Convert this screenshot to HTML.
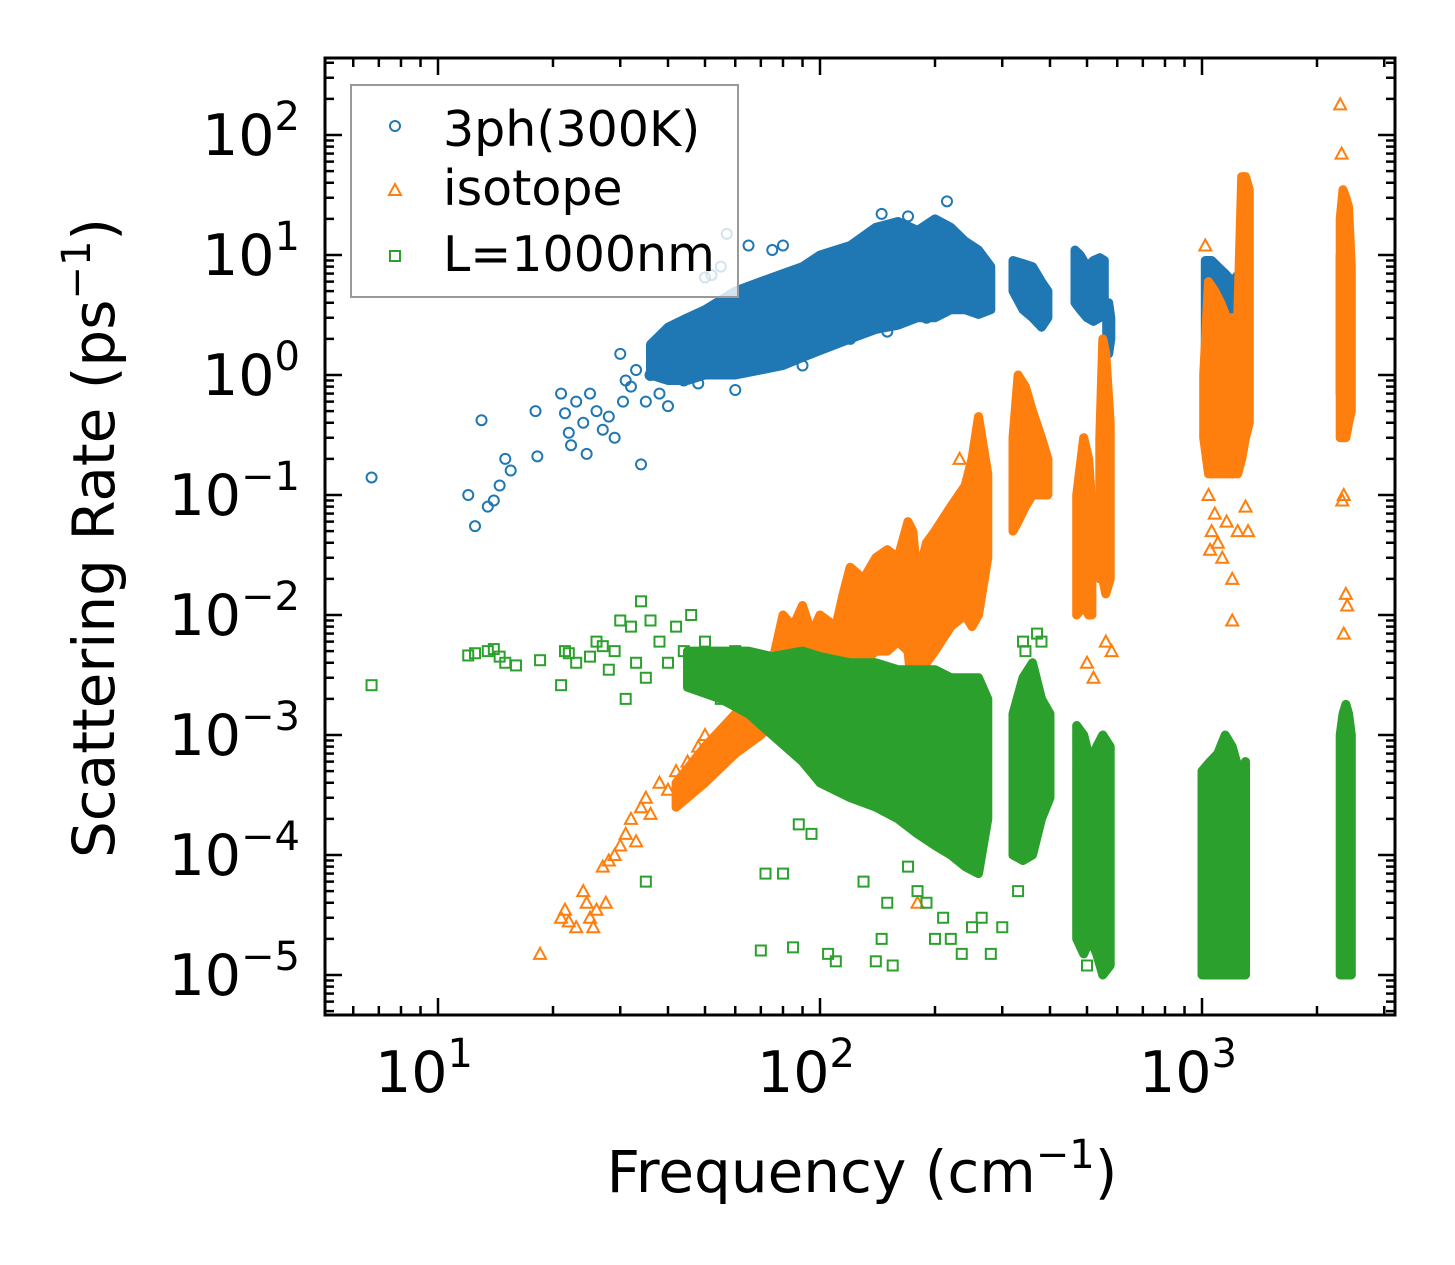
<!DOCTYPE html>
<html><head><meta charset="utf-8"><style>
html,body{margin:0;padding:0;background:#fff;}
svg{display:block;font-family:"DejaVu Sans","Liberation Sans",sans-serif;}
</style></head><body>
<svg id="chart" width="1455" height="1265" viewBox="0 0 1455 1265" xmlns="http://www.w3.org/2000/svg">
<rect x="0" y="0" width="1455" height="1265" fill="#fff"/>
<g id="plot"></g>
<g id="axes"></g>
<text x="862" y="1192" font-size="58" text-anchor="middle">Frequency (cm<tspan font-size="40" dy="-24">−1</tspan><tspan dy="24">)</tspan></text>
<text transform="translate(114,538) rotate(-90)" font-size="58" text-anchor="middle">Scattering Rate (ps<tspan font-size="40" dy="-24">−1</tspan><tspan dy="24">)</tspan></text>
<g>
<rect x="351" y="85" width="387" height="212" fill="#fff" fill-opacity="0.8" stroke="#999" stroke-width="2"/>
<circle cx="395" cy="126" r="5" fill="none" stroke="#1f77b4" stroke-width="2"/>
<text x="443" y="146" font-size="49">3ph(300K)</text>
<polygon points="395,184 401,195 389,195" fill="none" stroke="#ff7f0e" stroke-width="2"/>
<text x="443" y="205" font-size="49">isotope</text>
<rect x="390" y="251" width="10" height="10" fill="none" stroke="#2ca02c" stroke-width="2"/>
<text x="443" y="271" font-size="49">L=1000nm</text>
</g>
</svg>
<script>
// ---- data ----
const xTickValues = [10, 100, 1000];
const xTickExps = ["1", "2", "3"];
const yTickValues = [100, 10, 1, 0.1, 0.01, 0.001, 0.0001, 0.00001];
const yTickExps = ["2", "1", "0", "−1", "−2", "−3", "−4", "−5"];

// 3ph dense bands: group id, frequency, low and high rate
const blueBandGroup = [0,0,0,0,0,0,0,0,0,0,0,0,0,0,0,0,0,0, 1,1,1,1,1, 2,2,2,2,2,2, 3,3,3, 4,4,4,4,4,4,4, 5,5,5,5];
const blueBandFreq  = [36,40,45,50,60,70,80,90,100,120,140,160,180,200,220,240,260,280, 320,340,360,380,395, 465,480,500,520,540,555, 563,570,577, 1020,1060,1100,1150,1200,1250,1300, 2300,2350,2400,2450];
const blueBandHi    = [1.8,2.5,3,3.5,5,6,7,8,10,12,17,19,16,20,17,13,11,8, 9,8.5,8,6,5, 11,10,8,9,9.5,9, 3.5,4,3, 9,9,8,7,6,7,6, 10,10,8,6];
const blueBandLo    = [1,0.9,0.9,1,1,1.1,1.2,1.4,1.6,2,2.4,2.6,3,3,3.5,3.5,3.2,3.5, 5,3.5,3,2.5,3, 4,3.5,3,2.8,3,4, 1.6,1.5,2, 0.7,0.8,0.8,0.8,0.8,0.9,1, 0.7,0.7,0.8,0.9];
const blueFreq = [6.7,12,12.5,13,13.5,14,14.5,15,15.5,18,18.2,21,21.5,22,22.3,23,24,24.5,25,26,27,28,29,30,30.5,31,32,33,34,35,36,38,40,42,44,45,48,50,52,55,57,58,60,62,65,70,75,80,90,100,120,150,190,215,145,170];
const blueRate = [0.14,0.1,0.055,0.42,0.08,0.09,0.12,0.2,0.16,0.5,0.21,0.7,0.48,0.33,0.26,0.6,0.4,0.22,0.7,0.5,0.35,0.45,0.3,1.5,0.6,0.9,0.8,1.1,0.18,0.6,1.0,0.7,0.55,1.2,0.9,1.9,0.85,6.5,6.8,8,15,1.5,0.75,1.1,12,1.3,11,12,1.2,1.8,2,2.3,3,28,22,21];

// isotope dense bands
const orangeBandGroup = [0,0,0,0,0, 1,1,1,1,1,1,1,1,1,1,1,1,1,1,1,1,1,1,1,1,1,1,1, 2,2,2,2,2,2, 3,3,3,3, 4,4,4,4, 5,5,5,5,5,5,5,5,5,5, 6,6,6,6,6];
const orangeBandFreq  = [42,50,60,70,80, 75,80,85,90,95,100,110,115,120,130,140,150,160,170,175,180,190,200,220,240,250,260,275, 320,330,345,360,380,395, 470,490,505,515, 540,550,560,575, 1010,1040,1080,1120,1160,1200,1240,1270,1300,1330, 2300,2340,2380,2420,2460];
const orangeBandHi    = [4e-4,8e-4,1.5e-3,3e-3,5e-3, 4e-3,1e-2,8e-3,1.2e-2,7e-3,1e-2,8e-3,1.5e-2,2.5e-2,2e-2,3e-2,3.5e-2,3e-2,6e-2,5e-2,2e-2,4e-2,5e-2,8e-2,1.2e-1,2e-1,0.45,0.15, 0.3,1,0.8,0.5,0.3,0.2, 0.1,0.3,0.2,0.08, 0.3,2,1.5,0.4, 1,6,5,4,3,3,3,45,45,35, 20,35,30,25,8];
const orangeBandLo    = [2.5e-4,4e-4,7e-4,1e-3,1.5e-3, 1.5e-3,1.5e-3,1.5e-3,2e-3,2e-3,2e-3,1e-3,3e-3,3e-3,4e-3,5e-3,5e-3,6e-3,5e-3,2e-3,3e-3,4e-3,5e-3,8e-3,1e-2,8e-3,1e-2,3e-2, 0.05,0.06,0.08,0.1,0.1,0.1, 0.01,0.012,0.01,0.01, 0.02,0.02,0.015,0.02, 0.3,0.15,0.15,0.15,0.15,0.15,0.15,0.2,0.3,0.4, 0.3,0.3,0.3,0.4,0.5];
const orangeFreq = [18.5,21,21.5,22,23,24,24.5,25,25.5,26,27,27.5,28,29,30,31,32,33,34,35,36,38,40,42,45,48,50,180,232,255,265,1020,1040,1060,1100,1130,1160,1200,1050,1080,1240,2300,2320,2350,2330,2380,2400,1200,500,520,560,580,2350,1320,1300];
const orangeRate = [1.5e-5,3e-5,3.5e-5,2.8e-5,2.5e-5,5e-5,4e-5,3e-5,2.5e-5,3.5e-5,8e-5,4e-5,9e-5,1e-4,1.2e-4,1.5e-4,2e-4,1.3e-4,2.5e-4,3e-4,2.2e-4,4e-4,3.5e-4,5e-4,6e-4,8e-4,1e-3,4e-5,0.2,0.1,0.05,12,0.1,0.05,0.04,0.03,0.06,0.02,0.035,0.07,0.05,180,70,0.1,0.09,0.015,0.012,0.009,0.004,0.003,0.006,0.005,0.007,0.05,0.08];

// boundary (L=1000nm) dense bands
const greenBandGroup = [0,0,0,0,0,0,0,0,0,0,0,0,0,0,0, 1,1,1,1,1, 2,2,2,2,2,2, 3,3,3,3,3,3,3, 4,4,4,4,4];
const greenBandFreq  = [45,55,65,75,90,100,120,140,160,180,200,220,240,260,275, 320,340,360,380,400, 470,490,510,530,550,575, 1000,1050,1100,1150,1200,1250,1300, 2300,2340,2380,2420,2460];
const greenBandHi    = [5e-3,5e-3,5e-3,4.5e-3,5e-3,4.5e-3,4e-3,4e-3,3.5e-3,3.5e-3,3.5e-3,3e-3,3e-3,3e-3,2e-3, 1.5e-3,3e-3,4e-3,2e-3,1.5e-3, 1.2e-3,1e-3,6e-4,8e-4,1e-3,8e-4, 5e-4,6e-4,7e-4,1e-3,8e-4,5e-4,6e-4, 1e-3,1.5e-3,1.8e-3,1.5e-3,1e-3];
const greenBandLo    = [2.5e-3,2e-3,1.5e-3,1e-3,6e-4,4e-4,3e-4,2.5e-4,2e-4,1.5e-4,1.2e-4,1e-4,8e-5,7e-5,2e-4, 1e-4,9e-5,1e-4,2e-4,3e-4, 2e-5,1.5e-5,2e-5,1.5e-5,1e-5,1.2e-5, 1e-5,1e-5,1e-5,1e-5,1e-5,1e-5,1e-5, 1e-5,1e-5,1e-5,1e-5,1e-5];
const greenFreq = [6.7,12,12.5,13.5,14,14.5,15,16,18.5,21,21.5,22,23,25,26,27,28,29,30,31,32,33,34,35,36,38,40,42,44,46,48,50,55,60,35,70,72,80,85,88,95,105,110,130,140,145,150,155,170,180,190,200,210,220,235,250,265,280,300,330,340,345,370,380,500,540,560];
const greenRate = [2.6e-3,4.6e-3,4.8e-3,5e-3,5.2e-3,4.5e-3,4e-3,3.8e-3,4.2e-3,2.6e-3,5e-3,4.8e-3,4e-3,4.5e-3,6e-3,5.5e-3,3.5e-3,5e-3,9e-3,2e-3,8e-3,4e-3,1.3e-2,3e-3,9e-3,6e-3,4e-3,8e-3,5e-3,1e-2,3e-3,6e-3,2e-3,5e-3,6e-5,1.6e-5,7e-5,7e-5,1.7e-5,1.8e-4,1.5e-4,1.5e-5,1.3e-5,6e-5,1.3e-5,2e-5,4e-5,1.2e-5,8e-5,5e-5,4e-5,2e-5,3e-5,2e-5,1.5e-5,2.5e-5,3e-5,1.5e-5,2.5e-5,5e-5,6e-3,5e-3,7e-3,6e-3,1.2e-5,2e-5,1.5e-5];

// ---- axes ----
const X0 = 325, X1 = 1395, Y0 = 58, Y1 = 1015;
const xDec = 382, xAt10 = 438;
const yDec = 120, yAt1 = 375;
function xs(v){ return xAt10 + (Math.log10(v) - 1) * xDec; }
function ys(v){ return yAt1 - Math.log10(v) * yDec; }

const NS = "http://www.w3.org/2000/svg";
function mk(tag, parent){ const e = document.createElementNS(NS, tag); parent.appendChild(e); return e; }
const plot = document.getElementById('plot');
const axes = document.getElementById('axes');

const clip = mk('clipPath', plot);
clip.setAttribute('id','pc');
const cr = mk('rect', clip);
cr.setAttribute('x',X0); cr.setAttribute('y',Y0); cr.setAttribute('width',X1-X0); cr.setAttribute('height',Y1-Y0);
const layer = mk('g', plot);
layer.setAttribute('clip-path','url(#pc)');

function drawBands(group, freq, lo, hi, color, name){
  const ids = [...new Set(group)];
  ids.forEach(id => {
    const top = [], bot = [];
    for (let i = 0; i < group.length; i++) {
      if (group[i] !== id) continue;
      top.push(xs(freq[i]).toFixed(1) + ',' + ys(hi[i]).toFixed(1));
      bot.unshift(xs(freq[i]).toFixed(1) + ',' + ys(lo[i]).toFixed(1));
    }
    const p = mk('polygon', layer);
    
    
    p.setAttribute('points', top.concat(bot).join(' '));
    p.setAttribute('fill', color);
    p.setAttribute('stroke', color);
    p.setAttribute('stroke-width', '9');
    p.setAttribute('stroke-linejoin', 'round');
  });
}
function drawPoints(freq, rate, color, shape, name){
  for (let i = 0; i < freq.length; i++) {
    const cx = xs(freq[i]), cy = ys(rate[i]);
    let e;
    if (shape === 'circle') {
      e = mk('circle', layer);
      e.setAttribute('cx', cx); e.setAttribute('cy', cy); e.setAttribute('r', 5);
    } else if (shape === 'tri') {
      e = mk('polygon', layer);
      e.setAttribute('points', `${cx},${cy-6} ${cx+6},${cy+5} ${cx-6},${cy+5}`);
    } else {
      e = mk('rect', layer);
      e.setAttribute('x', cx-5); e.setAttribute('y', cy-5); e.setAttribute('width', 10); e.setAttribute('height', 10);
    }
    
    
    e.setAttribute('fill', 'none');
    e.setAttribute('stroke', color);
    e.setAttribute('stroke-width', '2');
  }
}
drawBands(blueBandGroup, blueBandFreq, blueBandLo, blueBandHi, '#1f77b4', 'three-phonon');
drawPoints(blueFreq, blueRate, '#1f77b4', 'circle', 'three-phonon');
drawBands(orangeBandGroup, orangeBandFreq, orangeBandLo, orangeBandHi, '#ff7f0e', 'isotope');
drawPoints(orangeFreq, orangeRate, '#ff7f0e', 'tri', 'isotope');
drawBands(greenBandGroup, greenBandFreq, greenBandLo, greenBandHi, '#2ca02c', 'boundary');
drawPoints(greenFreq, greenRate, '#2ca02c', 'square', 'boundary');

// frame
const fr = mk('rect', axes);


fr.setAttribute('x', X0); fr.setAttribute('y', Y0); fr.setAttribute('width', X1-X0); fr.setAttribute('height', Y1-Y0);
fr.setAttribute('fill', 'none'); fr.setAttribute('stroke', '#000'); fr.setAttribute('stroke-width', '3');

function tick(x1,y1,x2,y2,w){
  const l = mk('line', axes);
  
  
  l.setAttribute('x1',x1); l.setAttribute('y1',y1); l.setAttribute('x2',x2); l.setAttribute('y2',y2);
  l.setAttribute('stroke','#000'); l.setAttribute('stroke-width',w);
}
for (let d = 0; d <= 3; d++) {
  for (let m = 1; m <= 9; m++) {
    const v = m * Math.pow(10, d);
    const x = xs(v);
    if (x < X0 || x > X1) continue;
    const len = m === 1 ? 17 : 9;
    tick(x, Y1, x, Y1 - len, 2.5);
    tick(x, Y0, x, Y0 + len, 2.5);
  }
}
for (let d = -6; d <= 2; d++) {
  for (let m = 1; m <= 9; m++) {
    const v = m * Math.pow(10, d);
    const y = ys(v);
    if (y < Y0 || y > Y1) continue;
    const len = m === 1 ? 17 : 9;
    tick(X0, y, X0 + len, y, 2.5);
    tick(X1, y, X1 - len, y, 2.5);
  }
}
xTickValues.forEach((v, i) => {
  const t = mk('text', axes);
  
  
  t.setAttribute('x', xs(v) - 14); t.setAttribute('y', 1092);
  t.setAttribute('font-size', '57'); t.setAttribute('text-anchor', 'middle');
  t.innerHTML = '10<tspan font-size="40" dy="-25">' + xTickExps[i] + '</tspan>';
});
yTickValues.forEach((v, i) => {
  const t = mk('text', axes);
  
  
  t.setAttribute('x', 300); t.setAttribute('y', ys(v) + 20);
  t.setAttribute('font-size', '57'); t.setAttribute('text-anchor', 'end');
  t.innerHTML = '10<tspan font-size="40" dy="-25">' + yTickExps[i] + '</tspan>';
});
</script>
</body></html>
